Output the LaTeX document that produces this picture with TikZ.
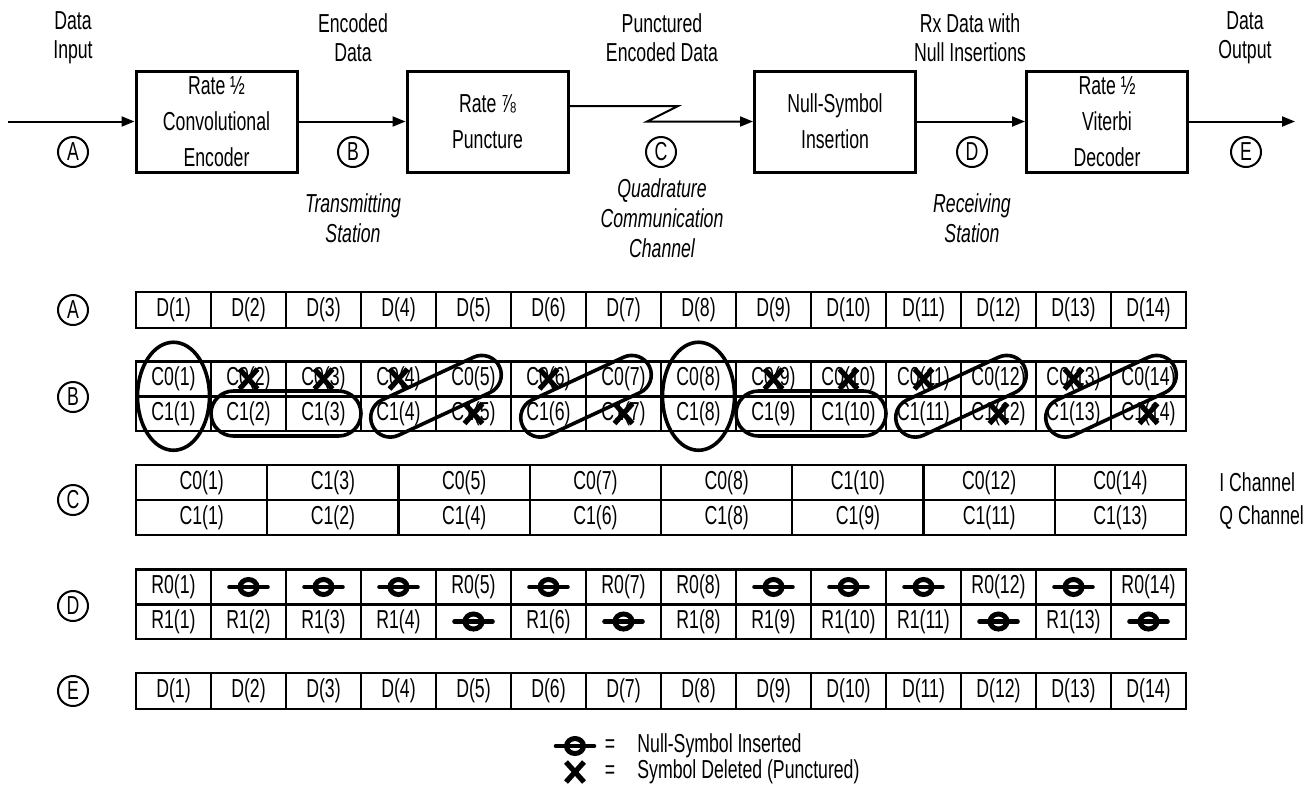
\documentclass[tikz,border=0pt]{standalone}
\usepackage{fontspec}
\setmainfont{Liberation Sans}[FakeStretch=0.68]
\usetikzlibrary{arrows.meta,positioning,calc,shapes.geometric,shapes.misc}
\tikzset{
  block/.style={draw, line width=1.5pt, minimum width=80.5pt, minimum height=50.5pt, align=center, inner sep=0pt, font=\fontsize{13}{18}\selectfont},
  lbl/.style={align=center, inner sep=0pt, font=\fontsize{13}{14.5}\selectfont},
  site/.style={align=center, inner sep=0pt, font=\fontsize{13}{15}\selectfont\itshape},
  tag/.style={circle, draw, line width=1pt, minimum size=15pt, inner sep=0pt, font=\fontsize{13}{13}\selectfont},
  cell/.style={draw, line width=1.1pt, minimum width=37.5pt, minimum height=17.5pt, inner sep=0pt, font=\fontsize{13}{13}\selectfont},
  wcell/.style={cell, minimum width=65.625pt},
  arrow/.style={-{Triangle[length=6.5pt,width=5pt]}, line width=1pt},
  encl/.style={draw, line width=1.8pt, inner sep=0pt},
  pill/.style={encl, rounded rectangle, minimum width=70pt, minimum height=19.5pt, rotate=25},
  flatpill/.style={encl, rounded rectangle, minimum width=75pt, minimum height=22.5pt},
  oval/.style={encl, ellipse, minimum width=36pt, minimum height=54pt},
  nullsym/.pic={
    \draw[line width=2.3pt, line cap=round] (-19,0) -- (19,0);
    \draw[line width=2.5pt] (0,0) ellipse [x radius=8.5, y radius=7.5];
  },
  xmark/.pic={
    \draw[line width=2.6pt] (-9,-10) -- (9,10) (-9,10) -- (9,-10);
  }
}

\begin{document}
\begin{tikzpicture}[x=0.5pt,y=-0.5pt]
  \useasboundingbox (0,0) rectangle (1310,794);

  % Signal chain
  \node[block] (enc) at (216.5,121.5) {Rate ½\\Convolutional\\Encoder};
  \node[block] (punc) at (487.5,121.5) {Rate ⅞\\Puncture};
  \node[block] (nulli) at (835,121.5) {Null-Symbol\\Insertion};
  \node[block] (vit) at (1107,121.5) {Rate ½\\Viterbi\\Decoder};

  \coordinate (src) at (8,121.5);
  \coordinate (snk) at (1295,121.5);
  \coordinate (zA) at (678,106);
  \coordinate (zB) at (647,121.5);
  \draw[arrow] (src) -- (enc.west);
  \draw[arrow] (enc) -- (punc);
  \draw[arrow] (punc.east |- zA) -- (zA) -- (zB) -- (nulli.west);
  \draw[arrow] (nulli) -- (vit);
  \draw[arrow] (vit) -- (snk);

  % Point labels
  \node[lbl] (lA) at (73,37.5) {Data\\Input};
  \node[lbl] (lB) at (353,37.5) {Encoded\\Data};
  \node[lbl] (lC) at (662,37.5) {Punctured\\Encoded Data};
  \node[lbl] (lD) at (970,37.5) {Rx Data with\\Null Insertions};
  \node[lbl] (lE) at (1245,37.5) {Data\\Output};

  \node[tag] (tA) at (73,152) {A};
  \node[tag] (tB) at (353,152) {B};
  \node[tag] (tC) at (661,152) {C};
  \node[tag] (tD) at (972,152) {D};
  \node[tag] (tE) at (1246,152) {E};

  \node[site] (tx) at (353,218) {Transmitting\\Station};
  \node[site] (ch) at (662,218) {Quadrature\\Communication\\Channel};
  \node[site] (rx) at (972,218) {Receiving\\Station};

  % Row tags
  \node[tag] (rA) at (73,310) {A};
  \node[tag] (rB) at (73,397) {B};
  \node[tag] (rC) at (73,500) {C};
  \node[tag] (rD) at (73,606) {D};
  \node[tag] (rE) at (73,691) {E};

  % Row A and row E
  \foreach \i in {1,...,14} {
    \node[cell, minimum height=18pt] (a\i) at ({136+75*(\i-0.5)},310) {D(\i)};
    \node[cell, minimum height=18pt] (e\i) at ({136+75*(\i-0.5)},691) {D(\i)};
  }

  % Row B
  \foreach \i in {1,...,14} {
    \node[cell] (bt\i) at ({136+75*(\i-0.5)},379) {C0(\i)};
    \node[cell] (bb\i) at ({136+75*(\i-0.5)},413.5) {C1(\i)};
  }
  \foreach \i in {2,3,4,6,9,10,11,13} \pic at (bt\i) {xmark};
  \foreach \i in {5,7,12,14} \pic at (bb\i) {xmark};
  \node[oval] (g1) at ($(bt1)!0.5!(bb1)$) {};
  \node[oval] (g8) at ($(bt8)!0.5!(bb8)$) {};
  \node[flatpill] (g23) at ($(bb2)!0.5!(bb3)$) {};
  \node[flatpill] (g910) at ($(bb9)!0.5!(bb10)$) {};
  \node[pill] (g45) at ($(bb4)!0.5!(bt5)$) {};
  \node[pill] (g67) at ($(bb6)!0.5!(bt7)$) {};
  \node[pill] (g1112) at ($(bb11)!0.5!(bt12)$) {};
  \node[pill] (g1314) at ($(bb13)!0.5!(bt14)$) {};

  % Row C
  \foreach \t [count=\j] in {C0(1),C1(3),C0(5),C0(7),C0(8),C1(10),C0(12),C0(14)}
    \node[wcell] (ct\j) at ({136+131.25*(\j-0.5)},482.5) {\t};
  \foreach \t [count=\j] in {C1(1),C1(2),C1(4),C1(6),C1(8),C1(9),C1(11),C1(13)}
    \node[wcell] (cb\j) at ({136+131.25*(\j-0.5)},517.5) {\t};
  \node[lbl, anchor=west] (ich) at (1219,482.5) {I Channel};
  \node[lbl, anchor=west] (qch) at (1219,517.5) {Q Channel};

  % Row D
  \foreach \i/\t in {1/R0(1),2/{},3/{},4/{},5/R0(5),6/{},7/R0(7),8/R0(8),9/{},10/{},11/{},12/R0(12),13/{},14/R0(14)}
    \node[cell] (dt\i) at ({136+75*(\i-0.5)},587) {\t};
  \foreach \i/\t in {1/R1(1),2/R1(2),3/R1(3),4/R1(4),5/{},6/R1(6),7/{},8/R1(8),9/R1(9),10/R1(10),11/R1(11),12/{},13/R1(13),14/{}}
    \node[cell] (db\i) at ({136+75*(\i-0.5)},621.5) {\t};
  \foreach \i in {2,3,4,6,9,10,11,13} \pic at (dt\i) {nullsym};
  \foreach \i in {5,7,12,14} \pic at (db\i) {nullsym};

  % Legend
  \pic at (575,746) {nullsym};
  \pic at (575,772) {xmark};
  \node[lbl] (eq1) at (610,746) {=};
  \node[lbl] (eq2) at (610,772) {=};
  \node[lbl, anchor=west] (leg1) at (637,746) {Null-Symbol Inserted};
  \node[lbl, anchor=west] (leg2) at (637,772) {Symbol Deleted (Punctured)};
\end{tikzpicture}
\end{document}
